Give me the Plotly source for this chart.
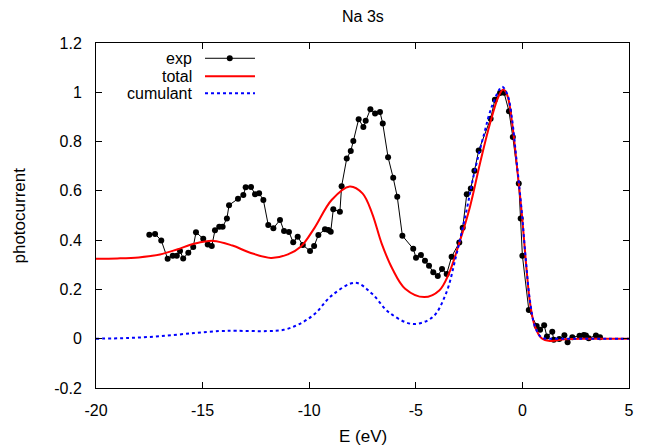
import plotly.graph_objects as go

# ---- data ----
exp_E = [-17.50, -17.23, -16.94, -16.64, -16.40, -16.21, -16.06, -15.91, -15.67, -15.44,
         -15.31, -14.97, -14.76, -14.57, -14.42, -14.22, -14.06, -13.86, -13.76, -13.34,
         -13.09, -12.98, -12.73, -12.54, -12.35, -12.15, -11.92, -11.68, -11.37, -11.18,
         -10.95, -10.75, -10.54, -10.30, -9.96, -9.77, -9.57, -9.26, -9.10, -8.99,
         -8.87, -8.56, -8.48, -8.24, -8.05, -7.93, -7.68, -7.46, -7.35, -7.13,
         -6.91, -6.68, -6.55, -6.30, -6.06, -5.87, -5.63, -5.12, -4.99, -4.76,
         -4.57, -4.38, -4.18, -3.97, -3.77, -3.55, -3.32, -2.96, -2.80, -2.61,
         -2.42, -2.25, -2.05, -1.49, -1.29, -1.05, -0.86, -0.63, -0.45, -0.17,
         -0.08, 0.00, 0.30, 0.67, 0.83, 1.02, 1.15, 1.40, 1.47, 1.73,
         1.97, 2.12, 2.34, 2.68, 2.88, 2.98, 3.11, 3.45, 3.64]
exp_I = [0.422, 0.425, 0.399, 0.324, 0.337, 0.337, 0.356, 0.326, 0.349, 0.372,
         0.432, 0.406, 0.382, 0.376, 0.440, 0.454, 0.454, 0.488, 0.542, 0.568,
         0.583, 0.615, 0.616, 0.586, 0.590, 0.563, 0.461, 0.448, 0.482, 0.437,
         0.433, 0.391, 0.414, 0.380, 0.356, 0.376, 0.421, 0.444, 0.441, 0.434,
         0.525, 0.515, 0.619, 0.731, 0.762, 0.802, 0.891, 0.859, 0.884, 0.931,
         0.914, 0.920, 0.873, 0.736, 0.653, 0.576, 0.418, 0.365, 0.329, 0.340,
         0.316, 0.296, 0.270, 0.255, 0.283, 0.263, 0.333, 0.390, 0.450, 0.586,
         0.610, 0.682, 0.764, 0.893, 0.970, 0.997, 0.998, 0.923, 0.819, 0.630,
         0.488, 0.337, 0.117, 0.052, 0.036, 0.055, 0.009, 0.028, -0.004, -0.001,
         0.014, -0.014, 0.006, 0.012, 0.015, 0.013, 0.002, 0.013, 0.006]

total_E = [-20.0, -19.0, -18.0, -17.0, -16.2, -15.4, -14.5, -13.6, -12.8, -11.8,
           -11.0, -10.4, -9.75, -8.95, -8.1, -7.5, -7.05, -6.6, -6.1, -5.5,
           -4.6, -3.9, -3.45, -2.97, -2.46, -1.99, -1.52, -1.13, -0.90, -0.71,
           -0.50, -0.27, -0.03, 0.17, 0.36, 0.59, 0.90, 1.29, 2.0, 3.0, 4.0, 5.0]
total_I = [0.325, 0.326, 0.330, 0.342, 0.362, 0.385, 0.397, 0.378, 0.350, 0.328,
           0.342, 0.373, 0.450, 0.563, 0.618, 0.590, 0.509, 0.386, 0.284, 0.203,
           0.169, 0.196, 0.264, 0.386, 0.535, 0.711, 0.873, 0.981, 1.011, 0.988,
           0.887, 0.711, 0.509, 0.306, 0.144, 0.049, 0.002, -0.009, -0.002, 0.0, 0.0, 0.0]

cum_E = [-20.0, -18.5, -17.0, -15.4, -14.2, -13.4, -12.0, -11.2, -10.5, -9.75,
         -8.93, -7.83, -7.05, -6.26, -5.16, -4.22, -3.59, -3.12, -2.65, -2.26,
         -1.8, -1.4, -0.95, -0.7, -0.5, -0.27, -0.03, 0.17, 0.36, 0.59,
         0.9, 1.3, 2.0, 3.0, 4.0, 5.0]
cum_I = [0.0, 0.003, 0.010, 0.023, 0.031, 0.032, 0.031, 0.036, 0.058, 0.100,
         0.176, 0.227, 0.182, 0.107, 0.060, 0.087, 0.182, 0.332, 0.509, 0.672,
         0.830, 0.950, 1.022, 0.990, 0.900, 0.720, 0.515, 0.310, 0.150, 0.050,
         0.005, 0.0, 0.0, 0.0, 0.0, 0.0]

x_ticks = [-20, -15, -10, -5, 0, 5]
x_ticktext = ["-20", "-15", "-10", "-5", "0", "5"]
y_ticks = [-0.2, 0, 0.2, 0.4, 0.6, 0.8, 1.0, 1.2]
y_ticktext = ["-0.2", "0", "0.2", "0.4", "0.6", "0.8", "1", "1.2"]

legend_names = ["exp", "total", "cumulant"]

FONT = "Liberation Sans, Arial, sans-serif"
TXT = 17
KEY = 16

fig = go.Figure()
fig.add_trace(go.Scatter(x=exp_E, y=exp_I, mode="lines+markers",
                         line=dict(color="black", width=1),
                         marker=dict(color="black", size=6),
                         showlegend=False))
fig.add_trace(go.Scatter(x=total_E, y=total_I, mode="lines",
                         line=dict(color="#ff0000", width=2, shape="spline", smoothing=1),
                         showlegend=False))
fig.add_trace(go.Scatter(x=cum_E, y=cum_I, mode="lines",
                         line=dict(color="#0000ff", width=2, dash="dot", shape="spline", smoothing=1),
                         showlegend=False))

# manual gnuplot-style key (samples on an overlay axis in [0,1])
row_y = [0.9557, 0.9037, 0.8545]
fig.add_trace(go.Scatter(x=[0.2045, 0.2983], y=[row_y[0]] * 2, mode="lines",
                         line=dict(color="black", width=1), xaxis="x2", yaxis="y2",
                         showlegend=False, hoverinfo="skip"))
fig.add_trace(go.Scatter(x=[0.251], y=[row_y[0]], mode="markers",
                         marker=dict(color="black", size=6), xaxis="x2", yaxis="y2",
                         showlegend=False, hoverinfo="skip"))
fig.add_trace(go.Scatter(x=[0.2045, 0.2983], y=[row_y[1]] * 2, mode="lines",
                         line=dict(color="#ff0000", width=2), xaxis="x2", yaxis="y2",
                         showlegend=False, hoverinfo="skip"))
fig.add_trace(go.Scatter(x=[0.2045, 0.2983], y=[row_y[2]] * 2, mode="lines",
                         line=dict(color="#0000ff", width=2, dash="dot"), xaxis="x2", yaxis="y2",
                         showlegend=False, hoverinfo="skip"))

annotations = []
for name, yy in zip(legend_names, row_y):
    annotations.append(dict(text=name, x=0.182, y=yy, xref="paper", yref="paper",
                            xanchor="right", yanchor="middle", showarrow=False,
                            borderpad=0, font=dict(family=FONT, size=KEY, color="black")))
annotations.append(dict(text="E (eV)", x=0.5, y=-0.141, xref="paper", yref="paper",
                        xanchor="center", yanchor="middle", showarrow=False,
                        font=dict(family=FONT, size=TXT, color="black")))
annotations.append(dict(text="photocurrent", x=-0.1426, y=0.5, xref="paper", yref="paper",
                        xanchor="center", yanchor="middle", textangle=-90, showarrow=False,
                        font=dict(family=FONT, size=TXT, color="black")))
annotations.append(dict(text="Na 3s", x=0.5, y=1.0 + (42.7 - 16) / 345.6, xref="paper", yref="paper",
                        xanchor="center", yanchor="middle", showarrow=False, borderpad=0,
                        font=dict(family=FONT, size=16, color="black")))

axis_common = dict(showgrid=False, zeroline=False, showline=True, mirror="ticks",
                   linecolor="black", linewidth=1, ticks="inside", ticklen=6,
                   tickcolor="black", tickwidth=1,
                   tickfont=dict(family=FONT, size=16, color="black"))

# page body has an 8px margin, so the figure is 8px smaller and shifted
fig.update_layout(
    width=640, height=440,
    margin=dict(l=88, r=19, t=35, b=60),
    paper_bgcolor="white", plot_bgcolor="white",
    xaxis=dict(range=[-20, 5], tickmode="array", tickvals=x_ticks, ticktext=x_ticktext,
               ticklabelstandoff=8, **axis_common),
    yaxis=dict(range=[-0.2, 1.2], tickmode="array", tickvals=y_ticks, ticktext=y_ticktext,
               ticklabelstandoff=10, **axis_common),
    xaxis2=dict(range=[0, 1], overlaying="x", anchor="y2", visible=False, fixedrange=True),
    yaxis2=dict(range=[0, 1], overlaying="y", anchor="x2", visible=False, fixedrange=True),
    annotations=annotations,
    showlegend=False,
)

fig.write_html("out.html")
